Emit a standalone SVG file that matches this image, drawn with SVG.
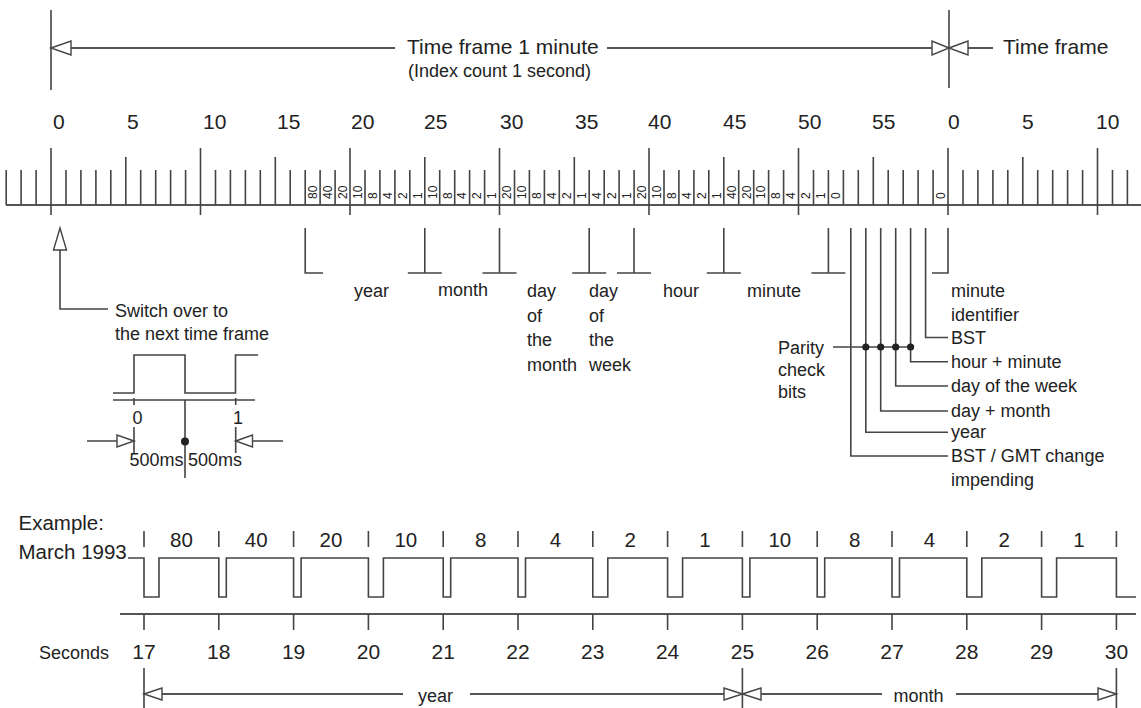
<svg xmlns="http://www.w3.org/2000/svg" width="1141" height="708" viewBox="0 0 1141 708">
<style>
text{font-family:"Liberation Sans",Arial,sans-serif;fill:#222}
.f21{font-size:21px}.f20{font-size:20.5px}.f18{font-size:18px}.f12{font-size:12px}
.mid{text-anchor:middle}
.ln{stroke:#444;stroke-width:1.6;fill:none}
.ax{stroke:#555;stroke-width:2;fill:none}
.tri{fill:#fff;stroke:#444;stroke-width:1.4}
.dot{fill:#222}
</style>
<rect width="1141" height="708" fill="#fff"/>

<g id="connectors">
  <!-- top time frame -->
  <path class="ln" d="M51,10V90M949,10V88"/>
  <path class="ax" d="M71,48H395M607,48H932M968,48H993"/>
  <polygon class="tri" points="51,48 71,41 71,55"/>
  <polygon class="tri" points="949,48 932,41 932,55"/>
  <polygon class="tri" points="949,48 968,41 968,55"/>

  <!-- ruler -->
  <path class="ax" d="M6,205H1141"/>
  <path class="ln" d="M51,148V215M200.5,148V215M350,148V215M499.5,148V215M649,148V215M798.5,148V215M948,148V215M1097.5,148V215"/>
  <path class="ln" d="M125.8,157V205M275.3,157V205M424.8,157V205M574.3,157V205M723.8,157V205M873.3,157V205M1022.8,157V205"/>
  <path class="ln" d="M6.2,170V205M21.1,170V205M36.1,170V205M66,170V205M80.9,170V205M95.9,170V205M110.8,170V205M140.7,170V205M155.7,170V205M170.6,170V205M185.6,170V205M215.5,170V205M230.4,170V205M245.4,170V205M260.3,170V205M290.2,170V205M305.2,170V205M320.1,170V205M335.1,170V205M365,170V205M379.9,170V205M394.9,170V205M409.8,170V205M439.7,170V205M454.7,170V205M469.6,170V205M484.6,170V205M514.5,170V205M529.4,170V205M544.4,170V205M559.3,170V205M589.2,170V205M604.2,170V205M619.1,170V205M634.1,170V205M664,170V205M678.9,170V205M693.9,170V205M708.8,170V205M738.7,170V205M753.7,170V205M768.6,170V205M783.6,170V205M813.5,170V205M828.4,170V205M843.4,170V205M858.3,170V205M888.2,170V205M903.2,170V205M918.1,170V205M933.1,170V205M963,170V205M977.9,170V205M992.9,170V205M1007.8,170V205M1037.7,170V205M1052.7,170V205M1067.6,170V205M1082.6,170V205M1112.5,170V205M1127.4,170V205"/>

  <!-- field brackets -->
  <path class="ln" d="M305.2,228V273H323M424.8,228V273M407.8,273H441.8M499.5,228V273M482.5,273H516.5M589.2,228V273M572.2,273H606.2M634,228V273M617,273H651M723.8,228V273M706.8,273H740.8M828.4,228V273M811.4,273H845.4M948,228V273H932"/>

  <!-- parity / status bits -->
  <path class="ln" d="M850.8,228V456H948M865.8,228V432.3H948M880.7,228V411H948M895.7,228V386H948M910.6,228V361.7H948M925.6,228V337.5H948M833,347H910.6"/>
  <circle class="dot" cx="865.8" cy="347" r="3.6"/>
  <circle class="dot" cx="880.7" cy="347" r="3.6"/>
  <circle class="dot" cx="895.7" cy="347" r="3.6"/>
  <circle class="dot" cx="910.6" cy="347" r="3.6"/>

  <!-- switch over arrow -->
  <path class="ln" d="M60,250V309H108"/>
  <polygon class="tri" points="60,228 53.5,250 66.5,250"/>

  <!-- pulse detail -->
  <path class="ln" d="M113,393H134V355H185V393H235.5V355H258"/>
  <path class="ln" d="M113,400H255M134,398V405M235.7,398V405M185,400V478M134,427V453M235.7,427V453M87,441H117M253,441H283"/>
  <polygon class="tri" points="134,441 117,435 117,447"/>
  <polygon class="tri" points="235.7,441 252.5,435 252.5,447"/>
  <circle class="dot" cx="185" cy="441.5" r="4"/>

  <!-- example signal -->
  <path class="ln" d="M128,558H144V597H159V558H218.8V597H226.3V558H293.6V597H301.1V558H368.4V597H383.4V558H443.2V597H450.7V558H518V597H525.5V558H592.8V597H607.8V558H667.6V597H682.6V558H742.4V597H749.9V558H817.2V597H824.7V558H892V597H899.5V558H966.8V597H981.8V558H1041.6V597H1056.6V558H1116.4V597H1136"/>
  <path class="ln" d="M144,531V547M218.8,531V547M293.6,531V547M368.4,531V547M443.2,531V547M518,531V547M592.8,531V547M667.6,531V547M742.4,531V547M817.2,531V547M892,531V547M966.8,531V547M1041.6,531V547M1116.4,531V547"/>
  <path class="ax" d="M120,614H1136"/>
  <path class="ln" d="M144,614V630M218.8,614V630M293.6,614V630M368.4,614V630M443.2,614V630M518,614V630M592.8,614V630M667.6,614V630M742.4,614V630M817.2,614V630M892,614V630M966.8,614V630M1041.6,614V630M1116.4,614V630"/>
  <!-- bottom arrows -->
  <path class="ln" d="M144,668V708M742.4,668V708M1116.4,668V708"/>
  <path class="ax" d="M162,694H403M470,694H724M761,694H882M956,694H1098"/>
  <polygon class="tri" points="144,694 162,688 162,700"/>
  <polygon class="tri" points="742.4,694 724,688 724,700"/>
  <polygon class="tri" points="742.4,694 761,688 761,700"/>
  <polygon class="tri" points="1116.4,694 1098,688 1098,700"/>
</g>

<g id="frame-labels">
  <text class="f21" x="407" y="54">Time frame 1 minute</text>
  <text class="f18" x="408" y="77">(Index count 1 second)</text>
  <text class="f21" x="1003" y="54">Time frame</text>
</g>

<g id="ruler-numbers" class="f21">
  <text class="f21" x="53" y="129">0</text>
  <text class="f21" x="127" y="129">5</text>
  <text class="f21" x="203" y="129">10</text>
  <text class="f21" x="277" y="129">15</text>
  <text class="f21" x="351" y="129">20</text>
  <text class="f21" x="424" y="129">25</text>
  <text class="f21" x="500" y="129">30</text>
  <text class="f21" x="575" y="129">35</text>
  <text class="f21" x="648" y="129">40</text>
  <text class="f21" x="723" y="129">45</text>
  <text class="f21" x="798" y="129">50</text>
  <text class="f21" x="872" y="129">55</text>
  <text class="f21" x="948" y="129">0</text>
  <text class="f21" x="1022" y="129">5</text>
  <text class="f21" x="1096" y="129">10</text>
</g>

<g id="bit-weights" class="f12">
  <text class="f12" transform="translate(316.9,199) rotate(-90)">80</text>
  <text class="f12" transform="translate(331.9,199) rotate(-90)">40</text>
  <text class="f12" transform="translate(346.8,199) rotate(-90)">20</text>
  <text class="f12" transform="translate(361.8,199) rotate(-90)">10</text>
  <text class="f12" transform="translate(376.7,199) rotate(-90)">8</text>
  <text class="f12" transform="translate(391.7,199) rotate(-90)">4</text>
  <text class="f12" transform="translate(406.6,199) rotate(-90)">2</text>
  <text class="f12" transform="translate(421.6,199) rotate(-90)">1</text>
  <text class="f12" transform="translate(436.5,199) rotate(-90)">10</text>
  <text class="f12" transform="translate(451.5,199) rotate(-90)">8</text>
  <text class="f12" transform="translate(466.4,199) rotate(-90)">4</text>
  <text class="f12" transform="translate(481.4,199) rotate(-90)">2</text>
  <text class="f12" transform="translate(496.3,199) rotate(-90)">1</text>
  <text class="f12" transform="translate(511.3,199) rotate(-90)">20</text>
  <text class="f12" transform="translate(526.2,199) rotate(-90)">10</text>
  <text class="f12" transform="translate(541.2,199) rotate(-90)">8</text>
  <text class="f12" transform="translate(556.1,199) rotate(-90)">4</text>
  <text class="f12" transform="translate(571.1,199) rotate(-90)">2</text>
  <text class="f12" transform="translate(586,199) rotate(-90)">1</text>
  <text class="f12" transform="translate(601,199) rotate(-90)">4</text>
  <text class="f12" transform="translate(615.9,199) rotate(-90)">2</text>
  <text class="f12" transform="translate(630.9,199) rotate(-90)">1</text>
  <text class="f12" transform="translate(645.8,199) rotate(-90)">20</text>
  <text class="f12" transform="translate(660.8,199) rotate(-90)">10</text>
  <text class="f12" transform="translate(675.7,199) rotate(-90)">8</text>
  <text class="f12" transform="translate(690.7,199) rotate(-90)">4</text>
  <text class="f12" transform="translate(705.6,199) rotate(-90)">2</text>
  <text class="f12" transform="translate(720.6,199) rotate(-90)">1</text>
  <text class="f12" transform="translate(735.5,199) rotate(-90)">40</text>
  <text class="f12" transform="translate(750.5,199) rotate(-90)">20</text>
  <text class="f12" transform="translate(765.4,199) rotate(-90)">10</text>
  <text class="f12" transform="translate(780.4,199) rotate(-90)">8</text>
  <text class="f12" transform="translate(795.3,199) rotate(-90)">4</text>
  <text class="f12" transform="translate(810.3,199) rotate(-90)">2</text>
  <text class="f12" transform="translate(825.2,199) rotate(-90)">1</text>
  <text class="f12" transform="translate(840.2,199) rotate(-90)">0</text>
  <text class="f12" transform="translate(944.8,199) rotate(-90)">0</text>
</g>

<g id="field-labels">
  <text class="f18" x="354" y="297">year</text>
  <text class="f18" x="438" y="296">month</text>
  <text class="f18" x="527" y="297">day</text>
  <text class="f18" x="527" y="321.5">of</text>
  <text class="f18" x="527" y="346">the</text>
  <text class="f18" x="527" y="370.5">month</text>
  <text class="f18" x="589" y="297">day</text>
  <text class="f18" x="589" y="321.5">of</text>
  <text class="f18" x="589" y="346">the</text>
  <text class="f18" x="589" y="370.5">week</text>
  <text class="f18" x="663" y="297">hour</text>
  <text class="f18" x="747" y="297">minute</text>
</g>

<g id="status-labels">
  <text class="f18" x="951" y="297">minute</text>
  <text class="f18" x="951" y="321">identifier</text>
  <text class="f18" x="951" y="344">BST</text>
  <text class="f18" x="951" y="368">hour + minute</text>
  <text class="f18" x="951" y="392">day of the week</text>
  <text class="f18" x="951" y="417">day + month</text>
  <text class="f18" x="951" y="438">year</text>
  <text class="f18" x="951" y="462">BST / GMT change</text>
  <text class="f18" x="951" y="486">impending</text>
</g>

<g id="parity-label">
  <text class="f18" x="778" y="354">Parity</text>
  <text class="f18" x="778" y="376">check</text>
  <text class="f18" x="778" y="398">bits</text>
</g>

<g id="switch-over">
  <text class="f18" x="115" y="317">Switch over to</text>
  <text class="f18" x="115" y="340">the next time frame</text>
  <text class="f18" x="132.5" y="424">0</text>
  <text class="f18" x="233" y="424">1</text>
  <text class="f18" x="129.5" y="466">500ms</text>
  <text class="f18" x="188" y="466">500ms</text>
</g>

<g id="example">
  <text class="f20" x="18.5" y="530">Example:</text>
  <text class="f20" x="18.5" y="559">March 1993</text>
  <text class="f20 mid" x="181.4" y="547">80</text>
  <text class="f20 mid" x="256.2" y="547">40</text>
  <text class="f20 mid" x="331" y="547">20</text>
  <text class="f20 mid" x="405.8" y="547">10</text>
  <text class="f20 mid" x="480.6" y="547">8</text>
  <text class="f20 mid" x="555.4" y="547">4</text>
  <text class="f20 mid" x="630.2" y="547">2</text>
  <text class="f20 mid" x="705" y="547">1</text>
  <text class="f20 mid" x="779.8" y="547">10</text>
  <text class="f20 mid" x="854.6" y="547">8</text>
  <text class="f20 mid" x="929.4" y="547">4</text>
  <text class="f20 mid" x="1004.2" y="547">2</text>
  <text class="f20 mid" x="1079" y="547">1</text>
  <text class="f18" x="39" y="659">Seconds</text>
  <text class="f21 mid" x="144" y="659">17</text>
  <text class="f21 mid" x="218.8" y="659">18</text>
  <text class="f21 mid" x="293.6" y="659">19</text>
  <text class="f21 mid" x="368.4" y="659">20</text>
  <text class="f21 mid" x="443.2" y="659">21</text>
  <text class="f21 mid" x="518" y="659">22</text>
  <text class="f21 mid" x="592.8" y="659">23</text>
  <text class="f21 mid" x="667.6" y="659">24</text>
  <text class="f21 mid" x="742.4" y="659">25</text>
  <text class="f21 mid" x="817.2" y="659">26</text>
  <text class="f21 mid" x="892" y="659">27</text>
  <text class="f21 mid" x="966.8" y="659">28</text>
  <text class="f21 mid" x="1041.6" y="659">29</text>
  <text class="f21 mid" x="1116.4" y="659">30</text>
  <text class="f18" x="418" y="702">year</text>
  <text class="f18" x="893.5" y="702">month</text>
</g>
</svg>
